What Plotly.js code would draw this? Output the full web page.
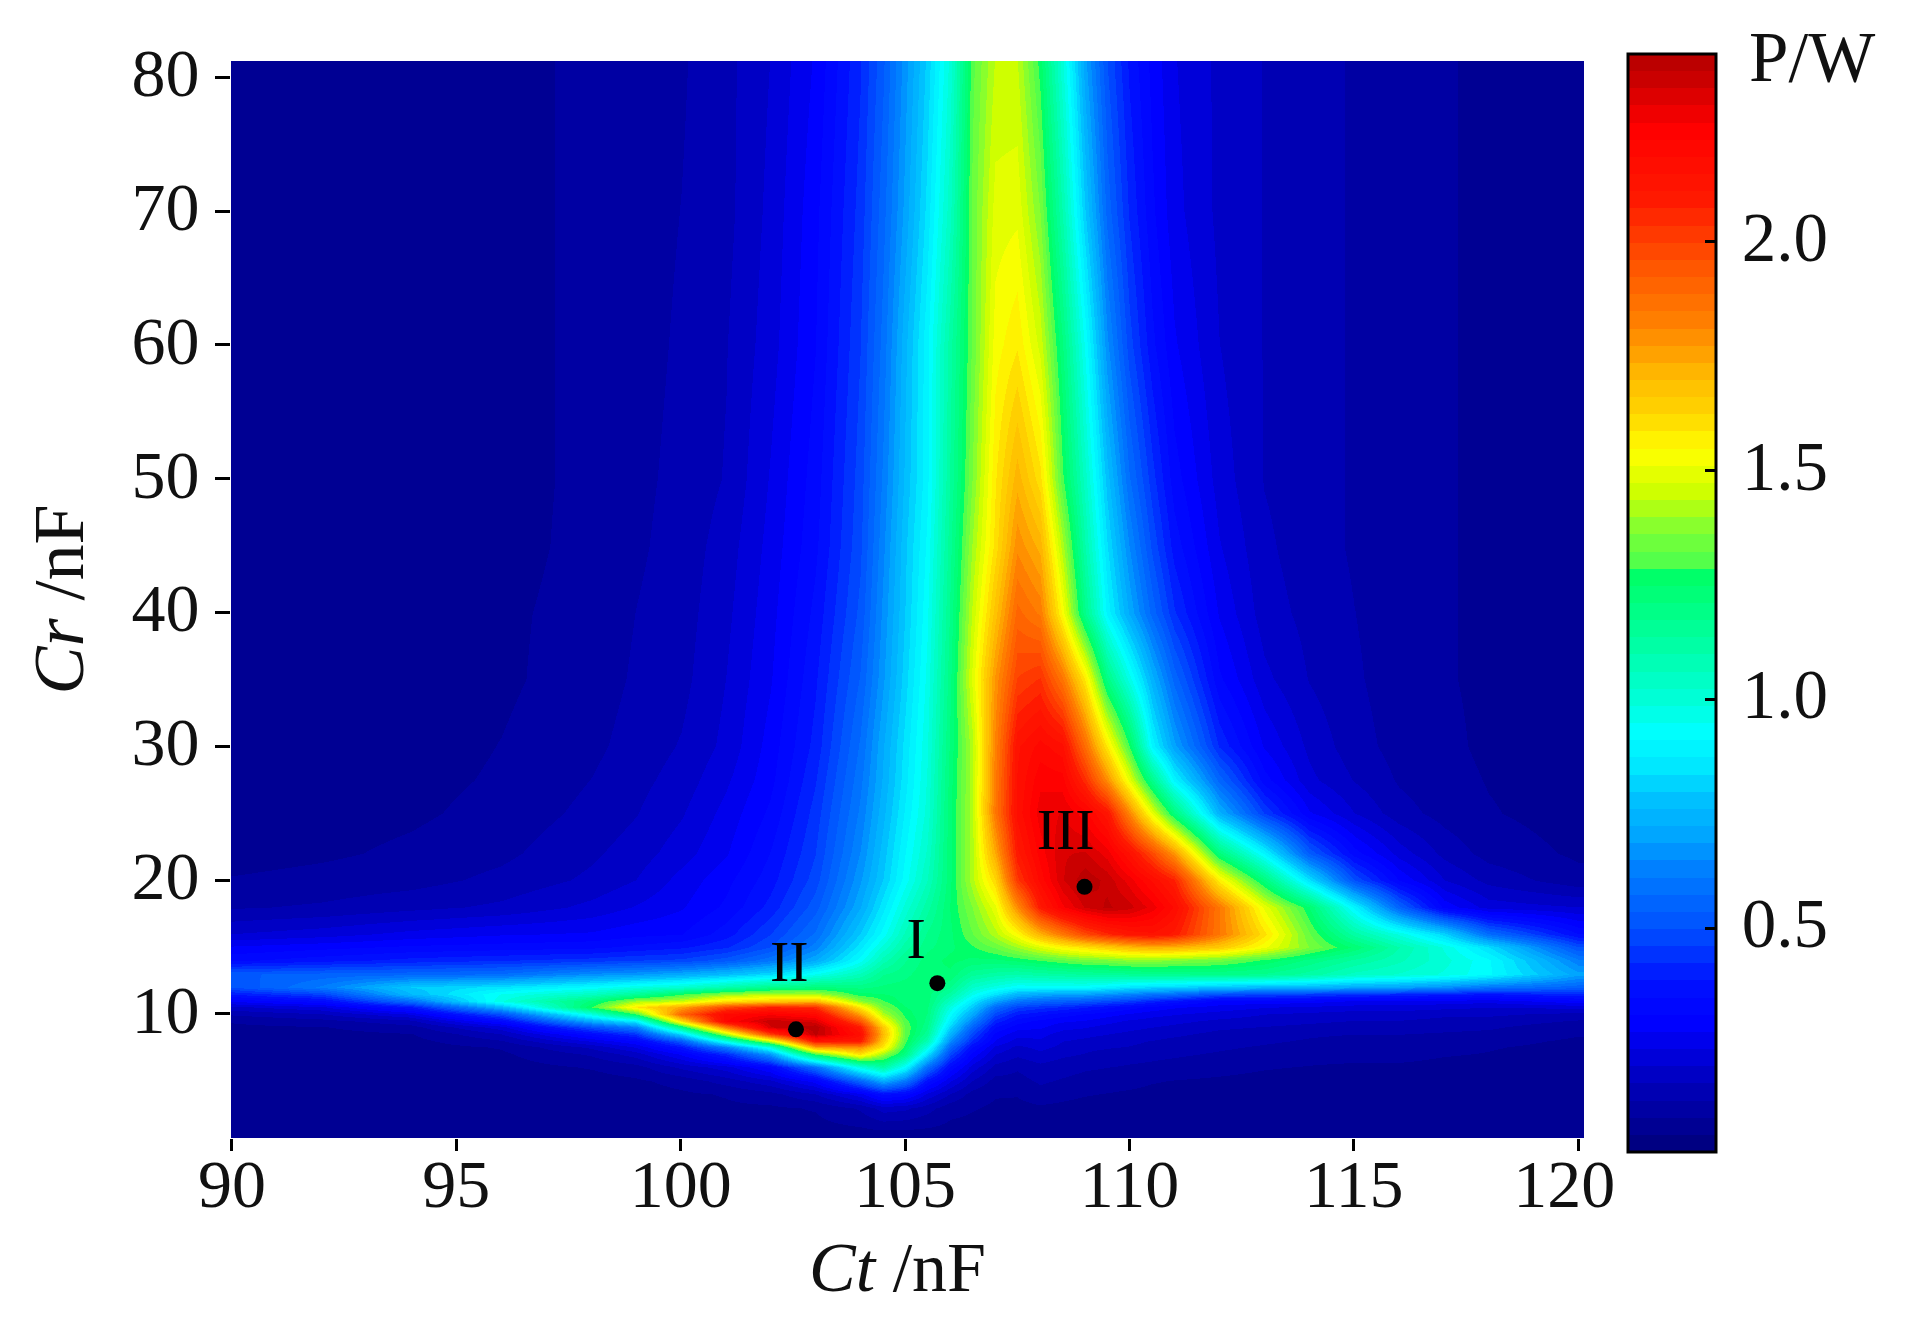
<!DOCTYPE html>
<html><head><meta charset="utf-8">
<script src="https://cdn.plot.ly/plotly-3.0.1.min.js"></script>
<style>html,body{margin:0;padding:0;background:#fff}</style></head>
<body><div id="chart" style="width:1913px;height:1328px"></div>
<script>
const ctValues = [90,92,94,96,98,99,100,101,102,103,104,104.5,105,105.5,106,106.5,107,107.5,108,108.5,109,109.5,110,110.5,111,112,113,114,115,116,117,118,120];
const crValues = [1,3,4,5,6,7,7.5,8,8.5,9,9.5,10,10.5,11,11.5,12,13,14,15,16,18,20,22,25,27.5,30,35,40,45,50,60,70,81];
// power, one list per Ct value, in the order of crValues
const powerByCt = [
[.07,.07,.07,.07,.07,.07,.07,.07,.075,.08,.09,.13,.19,.28,.39,.5,.53,.34,.28,.2,.12,.09,.07,.07,.07,.07,.07,.07,.07,.07,.07,.07,.07],
[.07,.07,.07,.07,.07,.07,.07,.07,.075,.085,.11,.16,.23,.34,.47,.62,.55,.37,.3,.22,.13,.1,.08,.07,.07,.07,.07,.07,.07,.07,.07,.07,.07],
[.07,.07,.07,.07,.07,.07,.07,.075,.085,.11,.15,.24,.38,.58,.76,.8,.56,.4,.32,.25,.15,.11,.095,.08,.075,.07,.07,.07,.07,.07,.07,.07,.07],
[.07,.07,.07,.07,.07,.08,.09,.12,.16,.22,.33,.5,.75,.98,.95,.85,.58,.42,.33,.27,.17,.135,.115,.1,.092,.088,.08,.08,.075,.075,.075,.075,.075],
[.07,.07,.07,.07,.09,.13,.17,.24,.34,.5,.72,.98,1.28,1.22,1.05,.92,.66,.44,.34,.28,.21,.17,.155,.135,.125,.115,.105,.1,.097,.095,.095,.095,.095],
[.07,.07,.07,.08,.11,.18,.24,.31,.44,.62,.88,1.29,1.58,1.4,1.15,.98,.68,.46,.36,.3,.24,.2,.18,.16,.15,.14,.13,.125,.118,.115,.11,.108,.105],
[.07,.07,.08,.1,.17,.28,.38,.52,.82,1.2,1.6,1.9,1.75,1.45,1.28,1.02,.72,.47,.38,.31,.27,.25,.22,.195,.178,.165,.15,.145,.14,.135,.13,.125,.12],
[.07,.08,.09,.14,.22,.42,.62,.97,1.42,1.85,2.22,2.2,1.98,1.6,1.38,1.1,.77,.52,.42,.37,.32,.3,.27,.25,.23,.21,.2,.19,.18,.165,.16,.15,.15],
[.07,.08,.11,.19,.32,.68,.98,1.45,2.0,2.33,2.36,2.25,2.08,1.65,1.43,1.18,.83,.6,.5,.46,.4,.37,.35,.32,.3,.29,.27,.26,.25,.24,.22,.21,.2],
[.07,.09,.16,.29,.58,1.29,1.75,2.12,2.38,2.4,2.32,2.2,2.05,1.7,1.42,1.22,.95,.72,.63,.58,.52,.48,.46,.44,.42,.4,.38,.36,.34,.33,.31,.3,.28],
[.07,.13,.26,.55,.98,1.6,1.8,2.1,2.16,2.1,1.95,1.76,1.58,1.38,1.26,1.2,1.07,.93,.86,.8,.72,.68,.65,.62,.6,.58,.54,.51,.49,.48,.46,.44,.42],
[.07,.18,.36,.72,1.12,1.4,1.58,1.65,1.7,1.66,1.54,1.42,1.34,1.29,1.25,1.22,1.17,1.08,1.0,.93,.86,.8,.78,.75,.73,.72,.68,.66,.64,.62,.59,.56,.53],
[.07,.17,.33,.6,.92,1.2,1.26,1.3,1.32,1.32,1.3,1.27,1.25,1.23,1.23,1.23,1.2,1.17,1.12,1.07,1.0,.93,.91,.88,.86,.85,.82,.8,.79,.77,.75,.7,.67],
[.07,.14,.23,.36,.58,.85,.98,1.08,1.15,1.18,1.2,1.21,1.22,1.23,1.23,1.24,1.24,1.23,1.2,1.18,1.12,1.06,1.03,1.0,.99,.98,.96,.94,.92,.9,.9,.85,.81],
[.07,.1,.16,.24,.34,.48,.56,.65,.74,.82,.88,.93,.98,1.05,1.12,1.18,1.24,1.26,1.24,1.24,1.25,1.24,1.24,1.24,1.23,1.22,1.2,1.18,1.16,1.14,1.12,1.05,1.0],
[.07,.09,.11,.16,.22,.3,.35,.42,.48,.55,.63,.72,.8,.87,.96,1.03,1.15,1.24,1.28,1.32,1.36,1.42,1.42,1.42,1.42,1.42,1.48,1.44,1.4,1.36,1.33,1.33,1.31],
[.07,.08,.09,.11,.15,.2,.23,.27,.3,.35,.41,.48,.57,.7,.85,.97,1.12,1.24,1.33,1.42,1.5,1.62,1.74,1.85,1.84,1.82,1.78,1.68,1.6,1.58,1.53,1.49,1.44],
[.07,.075,.09,.11,.13,.17,.19,.22,.25,.29,.33,.39,.47,.6,.75,.92,1.1,1.26,1.4,1.54,1.8,2.02,2.1,2.16,2.15,2.14,2.0,1.9,1.8,1.72,1.58,1.5,1.44],
[.07,.08,.11,.13,.15,.19,.21,.23,.25,.28,.3,.36,.44,.56,.72,.92,1.12,1.29,1.48,1.72,2.1,2.2,2.24,2.28,2.25,2.2,2.04,1.84,1.72,1.6,1.46,1.36,1.27],
[.07,.075,.1,.12,.14,.17,.19,.2,.22,.25,.28,.33,.42,.54,.7,.92,1.13,1.32,1.55,1.85,2.25,2.33,2.33,2.3,2.24,2.16,1.86,1.54,1.42,1.3,1.22,1.1,1.0],
[.07,.07,.09,.11,.13,.16,.17,.19,.21,.24,.27,.31,.39,.52,.7,.92,1.14,1.35,1.6,1.98,2.34,2.4,2.34,2.24,2.05,1.88,1.58,1.18,1.1,1.04,.94,.8,.7],
[.07,.07,.085,.105,.125,.15,.165,.18,.2,.22,.25,.29,.36,.49,.67,.89,1.15,1.36,1.65,2.06,2.38,2.36,2.28,2.12,1.8,1.58,1.2,.9,.84,.78,.66,.56,.5],
[.07,.07,.08,.1,.12,.14,.16,.17,.19,.21,.23,.27,.33,.46,.64,.85,1.16,1.38,1.7,2.12,2.35,2.28,2.15,1.82,1.5,1.29,.97,.72,.65,.58,.48,.42,.38],
[.07,.07,.075,.09,.115,.135,.15,.16,.18,.2,.22,.25,.3,.41,.6,.83,1.17,1.38,1.73,2.14,2.28,2.18,1.98,1.5,1.18,.9,.74,.56,.49,.44,.36,.32,.3],
[.07,.07,.07,.085,.11,.13,.14,.15,.17,.19,.21,.24,.28,.37,.58,.82,1.17,1.37,1.72,2.1,2.18,2.08,1.78,1.22,.9,.7,.56,.43,.37,.33,.28,.25,.24],
[.07,.07,.07,.08,.1,.12,.13,.14,.15,.17,.19,.22,.26,.3,.5,.78,1.18,1.34,1.66,1.85,1.85,1.57,1.22,.74,.56,.42,.32,.27,.24,.22,.2,.19,.19],
[.07,.07,.07,.075,.09,.11,.12,.13,.14,.16,.18,.2,.24,.3,.48,.76,1.17,1.28,1.52,1.6,1.5,1.22,.9,.46,.33,.27,.21,.18,.17,.16,.16,.16,.16],
[.07,.07,.07,.07,.085,.1,.11,.12,.13,.15,.17,.19,.23,.29,.46,.75,1.12,1.2,1.36,1.33,1.25,.85,.53,.28,.21,.19,.16,.15,.14,.14,.14,.14,.14],
[.07,.07,.07,.07,.08,.1,.105,.11,.125,.14,.16,.18,.22,.27,.44,.72,1.05,1.13,1.24,1.12,.9,.5,.33,.2,.16,.14,.13,.125,.12,.12,.12,.12,.12],
[.07,.07,.07,.07,.08,.1,.105,.11,.125,.14,.16,.18,.22,.27,.42,.7,1.02,1.07,1.1,.98,.55,.31,.22,.14,.12,.11,.105,.105,.1,.1,.1,.1,.1],
[.07,.07,.07,.07,.075,.09,.1,.105,.12,.135,.15,.17,.21,.26,.4,.66,.98,1.0,.98,.82,.3,.2,.15,.11,.1,.095,.09,.09,.09,.09,.09,.09,.09],
[.07,.07,.07,.07,.07,.085,.09,.1,.115,.13,.145,.17,.2,.25,.38,.6,.92,.92,.84,.58,.22,.15,.11,.09,.085,.08,.08,.08,.08,.08,.08,.08,.08],
[.07,.07,.07,.07,.07,.07,.075,.08,.09,.1,.12,.15,.21,.3,.42,.55,.7,.62,.5,.35,.2,.1,.08,.07,.07,.07,.07,.07,.07,.07,.07,.07,.07]
];
const pointCt = [105.72,102.57,109.0];
const pointCr = [12.3,8.85,19.5];
const labelCt = [105.25,102.42,108.58];
const labelCr = [15.3,13.55,23.4];
const labelText = ['I','II','III'];
const xTicks = [90,95,100,105,110,115,120];
const yTicks = [10,20,30,40,50,60,70,80];
const barTicks = [0.5,1.0,1.5,2.0];
const zMin = 0.012, zMax = 2.41, levelCount = 64;
const colorValues = [0.012,0.17,0.29,0.38,0.5,0.63,0.71,0.78,0.855,0.926,1.0,1.13,1.21,1.29,1.295,1.37,1.45,1.54,1.62,1.71,1.825,1.96,2.095,2.25,2.295,2.35,2.41];
const colorStops = ['#00007a','#0000bf','#0000ff','#0010ff','#0050ff','#0080ff','#00a8ff','#00c0ff','#00e8ff','#00ffff','#00ffd8','#00ffa0','#00ff80','#00ff60','#4dff4d','#80ff33','#ccff00','#ffff00','#ffd700','#ffb800','#ff8000','#ff5000','#ff1800','#ff0000','#e80000','#cc0000','#b40000'];

function hexRgb(h){return [1,3,5].map(i=>parseInt(h.substr(i,2),16));}
function colorAt(v){
  for(let i=1;i<colorValues.length;i++){
    if(v<=colorValues[i]){
      const t=(v-colorValues[i-1])/(colorValues[i]-colorValues[i-1]);
      const a=hexRgb(colorStops[i-1]),b=hexRgb(colorStops[i]);
      return 'rgb('+a.map((c,k)=>Math.round(c+(b[k]-c)*t)).join(',')+')';
    }
  }
  return colorStops[colorStops.length-1];
}
const steppedScale=[];
for(let i=0;i<levelCount;i++){
  const c=colorAt(zMin+(i+0.5)/levelCount*(zMax-zMin));
  steppedScale.push([i/levelCount,c],[(i+1)/levelCount,c]);
}
const powerGrid = crValues.map((_,r)=>powerByCt.map(col=>col[r]));

const serif='"Liberation Serif","Times New Roman",serif';
const W=1913,H=1328,L=231,R=1584,T=61,B=1138;
const barTop=53.7,barBottom=1151.5,barLeft=1627.5,barRight=1715;
const px=x=>(x-L)/(R-L), py=y=>(B-y)/(B-T);
const barY=v=>barBottom-1.5-(v-zMin)/(zMax-zMin)*(barBottom-barTop-3);

const traces=[
 {type:'heatmap',x:ctValues,y:crValues,z:powerGrid,zmin:zMin,zmax:zMax,zsmooth:'best',colorscale:steppedScale,hoverinfo:'skip',
  colorbar:{x:px(barLeft),xanchor:'left',xpad:0,y:py(barTop),yanchor:'top',ypad:0,lenmode:'pixels',len:barBottom-barTop,thicknessmode:'pixels',thickness:barRight-barLeft,
   outlinewidth:3,outlinecolor:'#000',borderwidth:0,tickmode:'array',tickvals:barTicks,ticktext:barTicks.map(v=>v.toFixed(1)),ticks:'inside',ticklen:12,tickwidth:3,tickcolor:'#000',
   tickfont:{family:serif,size:69,color:'#111'},ticklabelposition:'outside'}},
 {type:'scatter',mode:'markers',x:pointCt,y:pointCr,marker:{size:16,color:'#000'},hoverinfo:'skip',showlegend:false},
 {type:'scatter',mode:'text',x:labelCt,y:labelCr,text:labelText,textfont:{family:serif,size:58,color:'#000'},textposition:'middle center',hoverinfo:'skip',showlegend:false}
];
const layout={
 width:W,height:H,paper_bgcolor:'#fff',plot_bgcolor:'#fff',showlegend:false,
 margin:{l:L,r:W-R,t:T,b:H-B,pad:0,autoexpand:false},
 font:{family:serif,color:'#111',size:68},
 xaxis:{range:[89.98,120.13],tickmode:'array',tickvals:xTicks,ticks:'outside',ticklen:12,tickwidth:3,tickcolor:'#000',showgrid:false,zeroline:false,showline:false,ticklabelstandoff:-26,
  tickfont:{family:serif,size:68,color:'#111'},title:{text:'<i>Ct</i> /nF',font:{family:serif,size:70,color:'#111'},standoff:13}},
 yaxis:{range:[0.73,81.22],tickmode:'array',tickvals:yTicks,ticks:'outside',ticklen:15,tickwidth:3,tickcolor:'#000',showgrid:false,zeroline:false,showline:false,ticklabelstandoff:2,ticklabelshift:-5,
  tickfont:{family:serif,size:68,color:'#111'},title:{text:'<i>Cr</i> /nF',font:{family:serif,size:72,color:'#111'},standoff:24}},
 annotations:[{xref:'paper',yref:'paper',x:px(1812),y:py(57),text:'P/W',showarrow:false,xanchor:'center',yanchor:'middle',font:{family:serif,size:71,color:'#111'}}],
 shapes:barTicks.map(v=>({type:'line',xref:'paper',yref:'paper',x0:px(barLeft),x1:px(barLeft+5),y0:py(barY(v)),y1:py(barY(v)),line:{color:'#000',width:3},layer:'above'}))
};
Plotly.newPlot('chart',traces,layout,{displayModeBar:false,staticPlot:true}).then(()=>{
  document.querySelectorAll('.colorbar .cbaxis text').forEach(t=>t.parentNode.setAttribute('transform','translate(10,-5)'));
  const xt=document.querySelectorAll('.xtick');
  if(xt.length) xt[xt.length-1].setAttribute('transform','translate(-14,0)');
  const title=document.querySelector('.xtitle');
  if(title) title.setAttribute('transform','translate(-10,7)');
});
</script></body></html>
